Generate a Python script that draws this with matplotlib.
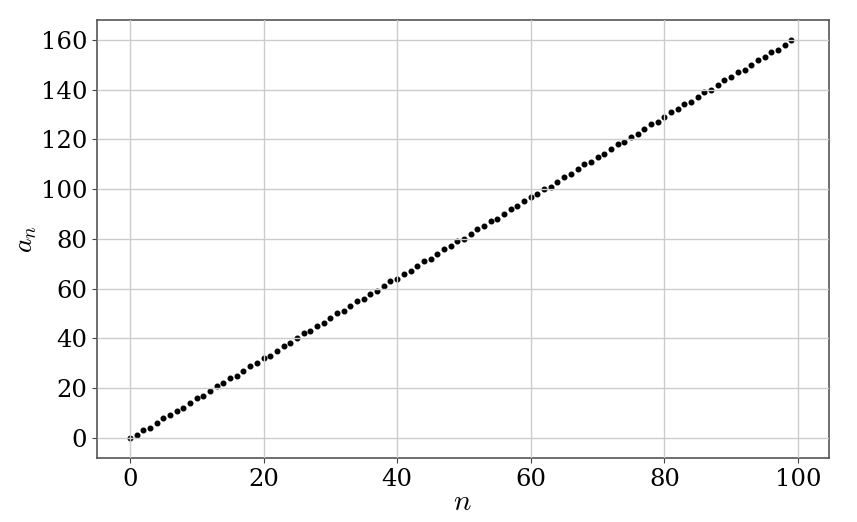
import numpy as np
import matplotlib
matplotlib.use("Agg")
import matplotlib.pyplot as plt

plt.rcParams['font.family'] = ['DejaVu Serif']
plt.rcParams['mathtext.fontset'] = 'cm'

n = list(range(100))
a_n = [0, 1, 3, 4, 6, 8, 9, 11, 12, 14,
       16, 17, 19, 21, 22, 24, 25, 27, 29, 30,
       32, 33, 35, 37, 38, 40, 42, 43, 45, 46,
       48, 50, 51, 53, 55, 56, 58, 59, 61, 63,
       64, 66, 67, 69, 71, 72, 74, 76, 77, 79,
       80, 82, 84, 85, 87, 88, 90, 92, 93, 95,
       97, 98, 100, 101, 103, 105, 106, 108, 110, 111,
       113, 114, 116, 118, 119, 121, 122, 124, 126, 127,
       129, 131, 132, 134, 135, 137, 139, 140, 142, 144,
       145, 147, 148, 150, 152, 153, 155, 156, 158, 160]

fig = plt.figure(figsize=(8.57, 5.22), dpi=100)
ax = fig.add_axes([0.113, 0.123, 0.854, 0.839])

ax.plot(n, a_n, 'o', color='black', markersize=3.3, zorder=1)
ax.grid(True, color='#cccccc', linewidth=1.0, zorder=2)
ax.set_axisbelow(False)

ax.set_xticks([0, 20, 40, 60, 80, 100])
ax.set_yticks([0, 20, 40, 60, 80, 100, 120, 140, 160])
ax.set_xlim(-4.95, 104.6)
ax.set_ylim(-8, 168)
ax.tick_params(labelsize=17.5, color='#444444')
for s in ax.spines.values():
    s.set_color('#555555')
    s.set_linewidth(1.2)

ax.set_xlabel('$n$', fontsize=21, labelpad=-2)
ax.set_ylabel('$a_n$', fontsize=20, labelpad=1)

fig.savefig('out.png', dpi=100)
